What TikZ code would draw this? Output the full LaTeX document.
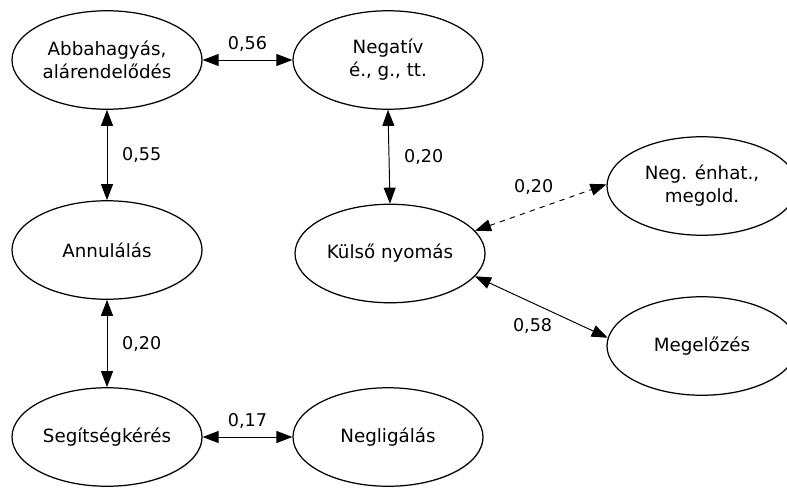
\documentclass[tikz,border=0pt]{standalone}
\usepackage{fontspec}
\setmainfont{DejaVu Sans}
\usetikzlibrary{arrows.meta,shapes.geometric,shadows}

\tikzset{
 elli/.style={ellipse, draw, line width=0.7pt, fill=white, minimum width=3.8cm, minimum height=1.97cm, inner sep=0pt, align=center, drop shadow={opacity=0.15, shadow xshift=0.6pt, shadow yshift=-0.6pt}},
 kapcs/.style={{Triangle[length=3.2mm,width=2.4mm]}-{Triangle[length=3.2mm,width=2.4mm]}, line width=0.55pt},
 szam/.style={font=\fontsize{10}{12}\selectfont}
}

\begin{document}
\begin{tikzpicture}[font=\fontsize{10.4}{13}\selectfont]
 \useasboundingbox (0,0) rectangle (15.74,-9.76);

 \node (abba) at (2.14,-1.2) [elli] {Abbahagyás,\\alárendelődés};
 \node (neg) at (7.76,-1.2) [elli] {Negatív\\é., g., tt.};
 \node (annul) at (2.14,-5) [elli] {Annulálás};
 \node (kulso) at (7.8,-5.07) [elli] {Külső nyomás};
 \node (enhat) at (14.04,-3.72) [elli] {Neg. énhat.,\\megold.};
 \node (megel) at (14.04,-6.92) [elli] {Megelőzés};
 \node (segit) at (2.14,-8.74) [elli] {Segítségkérés};
 \node (negli) at (7.76,-8.74) [elli] {Negligálás};

 \draw[kapcs] (abba) -- (neg) node [midway, above=1pt, szam] {0,56};
 \draw[kapcs] (abba) -- (annul) node [midway, right=5pt, szam] {0,55};
 \draw[kapcs] (neg.south) -- (kulso.north) node [midway, right=5pt, szam] {0,20};
 \draw[kapcs] (annul) -- (segit) node [midway, right=5pt, szam] {0,20};
 \draw[kapcs] (segit) -- (negli) node [midway, above=1pt, szam] {0,17};
 \draw[kapcs, dashed] (kulso.15) -- (enhat.179) node [midway, above, yshift=4pt, xshift=-4pt, szam] {0,20};
 \draw[kapcs] (kulso.-15) -- (megel.175) node [midway, below, yshift=-3pt, xshift=-5pt, szam] {0,58};
\end{tikzpicture}
\end{document}
